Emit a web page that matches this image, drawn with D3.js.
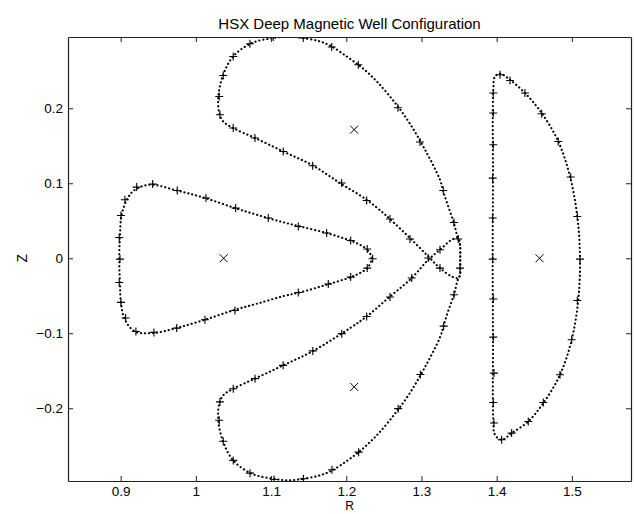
<!DOCTYPE html>
<html>
<head>
<meta charset="utf-8">
<script src="https://cdn.jsdelivr.net/npm/d3@7/dist/d3.min.js"></script>
<style>
  html, body { margin: 0; padding: 0; background: #fff; }
  svg { display: block; }
  text { font-family: "Liberation Sans", Arial, Helvetica, sans-serif; fill: #000; }
</style>
</head>
<body>
<svg id="chart" width="634" height="514"></svg>
<script>
// Poincaré puncture plot of the HSX deep magnetic well configuration (R, Z in metres)

const titleText = "HSX Deep Magnetic Well Configuration";
const xTicks = [0.9, 1.0, 1.1, 1.2, 1.3, 1.4, 1.5];
const yTicks = [-0.2, -0.1, 0, 0.1, 0.2];
const xDomain = [0.83, 1.5786];
const yDomain = [-0.297, 0.295];

// Island surface traces, [R, Z]
const leftLobe = [
  [1.2338, 0.0000], [1.2279, 0.0113], [1.2182, 0.0180], [1.2049, 0.0237],
  [1.1739, 0.0336], [1.1384, 0.0424], [1.1118, 0.0491], [1.0809, 0.0580],
  [1.0520, 0.0669], [1.0121, 0.0803], [0.9745, 0.0904], [0.9390, 0.0980],
  [0.9190, 0.0913], [0.9097, 0.0807], [0.9013, 0.0580], [0.8991, 0.0290],
  [0.8981, 0.0000], [0.8991, -0.0327], [0.9004, -0.0593], [0.9057, -0.0820],
  [0.9190, -0.0976], [0.9434, -0.0997], [0.9745, -0.0930], [1.0121, -0.0820],
  [1.0520, -0.0687], [1.0809, -0.0607], [1.1185, -0.0500], [1.1384, -0.0456],
  [1.1739, -0.0353], [1.2049, -0.0256], [1.2182, -0.0197], [1.2279, -0.0131]
];

const upperLobe = [
  [1.1251, 0.2957], [1.1428, 0.2936], [1.1650, 0.2891], [1.1806, 0.2824],
  [1.2005, 0.2691], [1.2160, 0.2580], [1.2293, 0.2469], [1.2426, 0.2336],
  [1.2648, 0.2073], [1.2847, 0.1793], [1.3047, 0.1447], [1.3246, 0.1047],
  [1.3290, 0.0891], [1.3356, 0.0691], [1.3432, 0.0469], [1.3476, 0.0291],
  [1.3512, 0.0180], [1.3515, -0.0020], [1.3512, -0.0220], [1.3489, -0.0264],
  [1.3402, -0.0243], [1.3246, -0.0131], [1.3090, 0.0024], [1.2847, 0.0269],
  [1.2581, 0.0523], [1.2492, 0.0603], [1.2271, 0.0780], [1.1916, 0.1003],
  [1.1561, 0.1233], [1.1162, 0.1424], [1.0786, 0.1603], [1.0497, 0.1736],
  [1.0364, 0.1824], [1.0311, 0.1936], [1.0298, 0.2157], [1.0364, 0.2447],
  [1.0497, 0.2691], [1.0742, 0.2869], [1.1029, 0.2936]
];

const lowerLobe = [
  [1.1240, -0.2960], [1.1430, -0.2940], [1.1650, -0.2895], [1.1810, -0.2830],
  [1.2010, -0.2700], [1.2165, -0.2585], [1.2295, -0.2470], [1.2430, -0.2335],
  [1.2650, -0.2070], [1.2850, -0.1790], [1.3050, -0.1445], [1.3250, -0.1045],
  [1.3295, -0.0895], [1.3360, -0.0690], [1.3432, -0.0487], [1.3476, -0.0309],
  [1.3512, -0.0220], [1.3515, -0.0020], [1.3512, 0.0180], [1.3489, 0.0269],
  [1.3402, 0.0247], [1.3246, 0.0113], [1.3090, -0.0020], [1.2870, -0.0264],
  [1.2570, -0.0520], [1.2271, -0.0776], [1.2049, -0.0931], [1.1561, -0.1235],
  [1.1160, -0.1428], [1.0786, -0.1605], [1.0497, -0.1740], [1.0364, -0.1826],
  [1.0311, -0.1940], [1.0298, -0.2160], [1.0364, -0.2450], [1.0497, -0.2695],
  [1.0742, -0.2872], [1.1029, -0.2940]
];

const rightLobe = [
  [1.4044, 0.2460], [1.4177, 0.2380], [1.4376, 0.2203], [1.4598, 0.1936],
  [1.4819, 0.1557], [1.4975, 0.1091], [1.5072, 0.0557], [1.5108, 0.0000],
  [1.5085, -0.0553], [1.4997, -0.1087], [1.4842, -0.1553], [1.4620, -0.1931],
  [1.4420, -0.2176], [1.4199, -0.2331], [1.4066, -0.2420], [1.3977, -0.2353],
  [1.3955, -0.2153], [1.3951, -0.1087], [1.3947, 0.0000], [1.3951, 0.1047],
  [1.3955, 0.2247], [1.3977, 0.2424]
];

// Punctures marked with "+"
const plusPoints = [
  // left island
  [0.9213, 0.0949], [0.9426, 0.0989], [0.9753, 0.0904], [1.0134, 0.0803],
  [1.0529, 0.0669], [0.9057, 0.0780], [0.9004, 0.0571], [0.8981, 0.0277],
  [0.8991, -0.0011], [0.8981, -0.0323], [0.9004, -0.0589], [0.9066, -0.0797],
  [0.9203, -0.0976], [0.9443, -0.0989], [0.9745, -0.0931], [1.0121, -0.0820],
  [1.0520, -0.0696], [1.0963, 0.0536], [1.1362, 0.0424], [1.1739, 0.0336],
  [1.2059, 0.0237], [1.2279, 0.0123], [1.2351, -0.0007], [1.2279, -0.0131],
  [1.2059, -0.0251], [1.1761, -0.0344], [1.1362, -0.0456],
  // upper island
  [1.1029, 0.2949], [1.1428, 0.2936], [1.1806, 0.2816], [1.2160, 0.2580],
  [1.0719, 0.2860], [1.0497, 0.2691], [1.0364, 0.2437], [1.0311, 0.2157],
  [1.0320, 0.1913], [1.0497, 0.1736], [1.0786, 0.1603], [1.1162, 0.1424],
  [1.1553, 0.1233], [1.1939, 0.1003], [1.2271, 0.0771], [1.2687, 0.2007],
  [1.2980, 0.1550], [1.3290, 0.0904], [1.3432, 0.0477], [1.3489, 0.0256],
  [1.3512, -0.0131], [1.3246, 0.0113], [1.3090, 0.0003], [1.3246, -0.0131],
  [1.2870, -0.0264], [1.2847, 0.0256], [1.2581, 0.0523], [1.2581, -0.0517],
  // lower island
  [1.1040, -0.2950], [1.1430, -0.2940], [1.1810, -0.2820], [1.2165, -0.2585],
  [1.0720, -0.2865], [1.0497, -0.2695], [1.0364, -0.2440], [1.0311, -0.2160],
  [1.0320, -0.1915], [1.0497, -0.1740], [1.0786, -0.1605], [1.1160, -0.1428],
  [1.1555, -0.1235], [1.1940, -0.1005], [1.2271, -0.0776], [1.2690, -0.2005],
  [1.2985, -0.1550], [1.3295, -0.0905], [1.3432, -0.0487],
  // right island
  [1.4044, 0.2447], [1.4177, 0.2371], [1.3955, 0.2203], [1.3955, 0.1936],
  [1.4376, 0.2203], [1.4598, 0.1927], [1.4819, 0.1557], [1.3955, 0.1513],
  [1.4984, 0.1083], [1.3947, 0.1069], [1.5072, 0.0557], [1.3947, 0.0536],
  [1.5108, -0.0011], [1.3947, -0.0011], [1.5072, -0.0563], [1.3955, -0.0544],
  [1.4997, -0.1087], [1.3955, -0.1051], [1.4842, -0.1553], [1.3964, -0.1531],
  [1.4620, -0.1923], [1.3955, -0.1923], [1.4420, -0.2176], [1.3964, -0.2197],
  [1.4199, -0.2331], [1.4066, -0.2420]
];

// Island O-points marked with "x"
const oPoints = [
  [1.0370, 0.0000], [1.2105, 0.1715], [1.2105, -0.1715], [1.4570, 0.0000]
];

const margin = { left: 68, top: 37, right: 3, bottom: 33 };
const W = 634, H = 514;
const svg = d3.select("#chart");

const x = d3.scaleLinear().domain(xDomain).range([margin.left, W - margin.right]);
const y = d3.scaleLinear().domain(yDomain).range([H - margin.bottom, margin.top]);

svg.append("defs").append("clipPath").attr("id", "plotClip")
  .append("rect")
  .attr("x", margin.left).attr("y", margin.top)
  .attr("width", W - margin.left - margin.right)
  .attr("height", H - margin.top - margin.bottom);

const plot = svg.append("g").attr("clip-path", "url(#plotClip)");

const line = d3.line()
  .x(d => x(d[0]))
  .y(d => y(d[1]))
  .curve(d3.curveCatmullRomClosed.alpha(0.5));

// puncture dots along each surface
plot.selectAll("path.surface")
  .data([leftLobe, upperLobe, lowerLobe, rightLobe])
  .join("path")
  .attr("class", "surface")
  .attr("d", line)
  .attr("fill", "none")
  .attr("stroke", "#000")
  .attr("stroke-width", 2.1)
  .attr("stroke-linecap", "round")
  .attr("stroke-dasharray", "0.2 3.8");

plot.selectAll("path.plus")
  .data(plusPoints)
  .join("path")
  .attr("class", "plus")
  .attr("transform", d => `translate(${x(d[0])},${y(d[1])})`)
  .attr("d", "M-4,0H4M0,-4V4")
  .attr("stroke", "#000")
  .attr("stroke-width", 1.1)
  .attr("fill", "none");

plot.selectAll("path.opoint")
  .data(oPoints)
  .join("path")
  .attr("class", "opoint")
  .attr("transform", d => `translate(${x(d[0])},${y(d[1])})`)
  .attr("d", "M-4,-4L4,4M-4,4L4,-4")
  .attr("stroke", "#000")
  .attr("stroke-width", 1)
  .attr("fill", "none");

// axes with inward ticks on all four sides
const tickFont = 13.5;
const fmtY = d => d === 0 ? "0" : d3.format(".1f")(d);
const fmtX = d => d === 1 ? "1" : d3.format(".1f")(d);

const gB = svg.append("g").attr("transform", `translate(0,${H - margin.bottom})`)
  .call(d3.axisBottom(x).tickValues(xTicks).tickFormat(fmtX).tickSizeInner(-5).tickSizeOuter(0).tickPadding(5));
const gT = svg.append("g").attr("transform", `translate(0,${margin.top})`)
  .call(d3.axisTop(x).tickValues(xTicks).tickFormat("").tickSizeInner(-5).tickSizeOuter(0));
const gL = svg.append("g").attr("transform", `translate(${margin.left},0)`)
  .call(d3.axisLeft(y).tickValues(yTicks).tickFormat(fmtY).tickSizeInner(-5).tickSizeOuter(0).tickPadding(5));
const gR = svg.append("g").attr("transform", `translate(${W - margin.right},0)`)
  .call(d3.axisRight(y).tickValues(yTicks).tickFormat("").tickSizeInner(-5).tickSizeOuter(0));

[gB, gT, gL, gR].forEach(g => {
  g.select(".domain").attr("stroke", "#222").attr("stroke-width", 1.2);
  g.selectAll(".tick line").attr("stroke", "#222");
  g.selectAll(".tick text")
    .attr("font-size", tickFont)
    .attr("font-family", '"Liberation Sans", Arial, sans-serif')
    .attr("fill", "#000");
});

svg.append("text")
  .attr("x", (margin.left + W - margin.right) / 2)
  .attr("y", 29)
  .attr("text-anchor", "middle")
  .attr("font-size", 15)
  .text(titleText);

svg.append("text")
  .attr("x", (margin.left + W - margin.right) / 2)
  .attr("y", 510)
  .attr("text-anchor", "middle")
  .attr("font-size", 12)
  .text("R");

svg.append("text")
  .attr("transform", `translate(27,${y(0)}) rotate(-90)`)
  .attr("text-anchor", "middle")
  .attr("font-size", 14)
  .text("Z");
</script>
</body>
</html>
